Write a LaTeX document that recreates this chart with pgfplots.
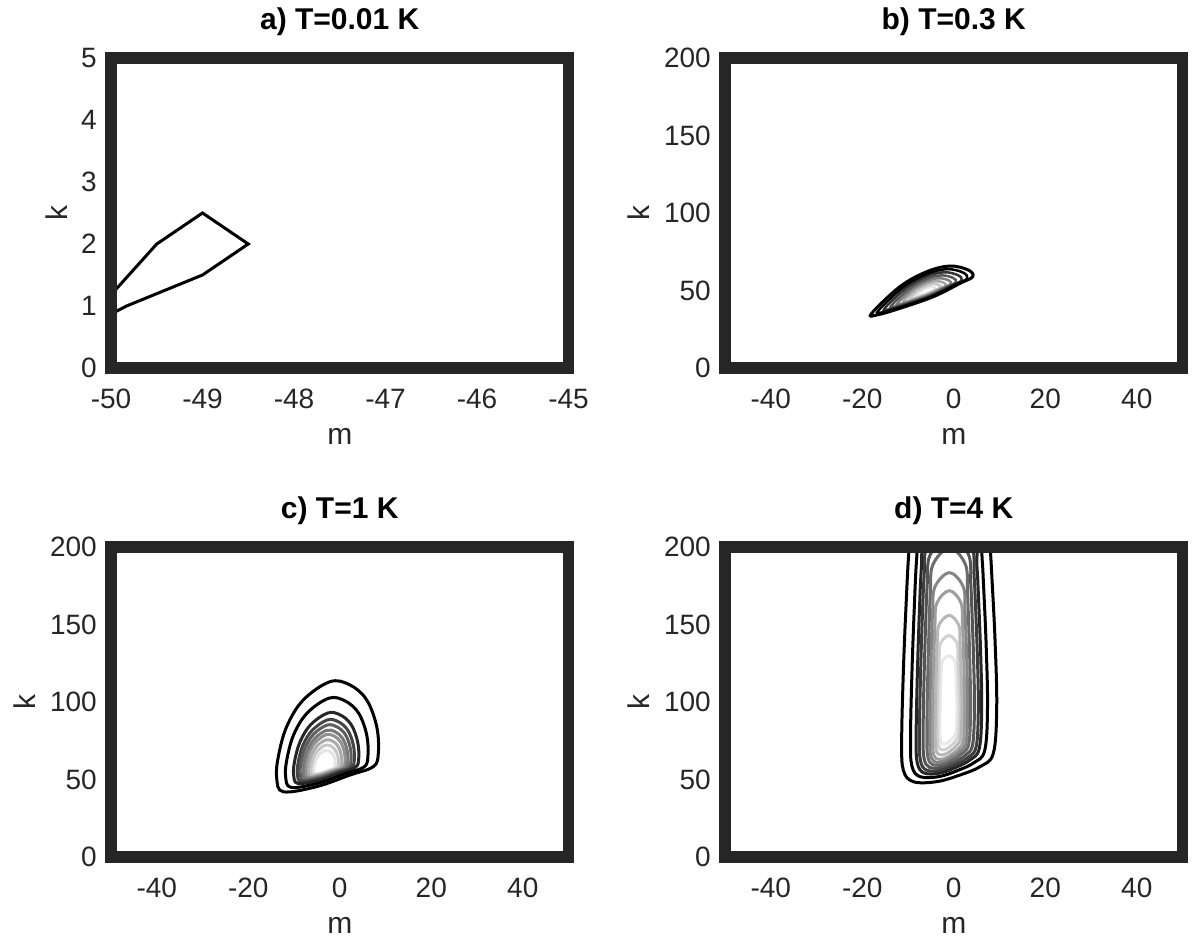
\documentclass[border=0pt]{standalone}
\usepackage{fontspec}
\setmainfont{Liberation Sans}
\usepackage{pgfplots}
\pgfplotsset{compat=1.18}
\definecolor{frm}{HTML}{262626}
\pgfplotsset{
  panel/.style={
    scale only axis, width=457.5pt, height=310pt,
    anchor=south west,
    enlargelimits=false,
    axis line style={draw=none},
    major tick length=0pt, minor tick length=0pt,
    tick style={draw=none},
    clip mode=individual,
    ticklabel style={font=\fontsize{28}{28}\selectfont, text=frm, inner sep=0pt},
    yticklabel style={anchor=east, xshift=-14pt},
    xticklabel style={anchor=north, yshift=-21pt},
    every axis title/.style={at={(axis description cs:0.5,1.0935)}, anchor=base, font=\bfseries\fontsize{30}{30}\selectfont},
    every axis x label/.style={at={(axis description cs:0.5,-0.2484)}, anchor=base, font=\fontsize{30}{30}\selectfont, text=frm},
    every axis y label/.style={at={(axis description cs:-0.094,0.5)}, rotate=90, anchor=base, font=\fontsize{30}{30}\selectfont, text=frm},
    xlabel={m}, ylabel={k},
  },
  wide/.style={
    xmin=-50, xmax=50, ymin=0, ymax=200,
    xtick={-40,-20,0,20,40}, xticklabels={-40,-20,0,20,40},
    ytick={0,50,100,150,200}, yticklabels={0,50,100,150,200},
    ylabel style={at={(axis description cs:-0.164,0.5)}},
  },
  cl/.style={smooth cycle, tension=0.6, line width=3pt, draw=#1},
}
\newcommand{\frameit}{\draw[frm, line width=11.5pt, line join=miter] (rel axis cs:0,0) rectangle (rel axis cs:1,1);}
\begin{document}
\begin{tikzpicture}[x=1pt,y=1pt]
\path[use as bounding box] (0,0) rectangle (1192,942);

% ---------------- a
\begin{axis}[panel, at={(111pt,574pt)},
  xmin=-50, xmax=-45, ymin=0, ymax=5,
  xtick={-50,-49,-48,-47,-46,-45}, xticklabels={-50,-49,-48,-47,-46,-45},
  ytick={0,1,2,3,4,5}, yticklabels={0,1,2,3,4,5},
  title={a) T=0.01 K}]
\addplot[black, line width=3pt, sharp plot] coordinates {
(-50,1.18) (-49.5,2.0) (-49,2.5) (-48.5,2.0) (-49,1.5) (-49.83,1.0) (-50,0.87)};
\frameit
\end{axis}

% ---------------- b
\begin{axis}[panel, wide, at={(725pt,574pt)}, title={b) T=0.3 K}]
\addplot[cl=black!10, line width=2.5pt] coordinates {(-8.39,46.26) (-7.15,49.7) (-5.98,51.62) (-4.96,52.36) (-4.16,51.84) (-3.97,50.98) (-4.53,50.12) (-5.69,48.4) (-7.15,46.9) (-8.16,46.04)};
\addplot[cl=black!22, line width=2.5pt] coordinates {(-9.7,44.75) (-7.78,50.09) (-5.97,53.06) (-4.39,54.21) (-3.15,53.4) (-2.86,52.07) (-3.72,50.74) (-5.53,48.07) (-7.78,45.74) (-9.35,44.41)};
\addplot[cl=black!35, line width=2.5pt] coordinates {(-11.01,43.25) (-8.42,50.47) (-5.96,54.5) (-3.82,56.06) (-2.14,54.96) (-1.74,53.16) (-2.9,51.35) (-5.36,47.74) (-8.42,44.59) (-10.54,42.78)};
\addplot[cl=black!50, line width=2.5pt] coordinates {(-12.32,41.74) (-9.05,50.86) (-5.95,55.94) (-3.25,57.9) (-1.13,56.53) (-0.63,54.25) (-2.09,51.97) (-5.19,47.41) (-9.05,43.43) (-11.72,41.16)};
\addplot[cl=black!65, line width=2.5pt] coordinates {(-13.64,40.23) (-9.68,51.24) (-5.94,57.38) (-2.68,59.75) (-0.12,58.09) (0.49,55.34) (-1.28,52.58) (-5.02,47.08) (-9.68,42.28) (-12.91,39.53)};
\addplot[cl=black!80, line width=2.5pt] coordinates {(-15.07,38.59) (-10.37,51.66) (-5.93,58.96) (-2.06,61.77) (0.98,59.79) (1.71,56.52) (-0.4,53.26) (-4.84,46.72) (-10.37,41.02) (-14.21,37.75)};
\addplot[cl=black, line width=2.5pt] coordinates {(-16.5,36.94) (-11.06,52.08) (-5.92,60.53) (-1.44,63.78) (2.08,61.5) (2.92,57.71) (0.49,53.93) (-4.65,46.36) (-11.06,39.76) (-15.5,35.98)};
\addplot[cl=black] coordinates {(-17.93,35.3) (-11.75,52.5) (-5.91,62.1) (-0.82,65.8) (3.18,63.2) (4.14,58.9) (1.37,54.6) (-4.47,46.0) (-11.75,38.5) (-16.8,34.2)};
\frameit
\end{axis}

% ---------------- c
\begin{axis}[panel, wide, at={(111pt,85pt)}, title={c) T=1 K}]
\addplot[cl=black!10] coordinates {(-3.21,68.78) (-4.44,66.3) (-5.2,62.69) (-5.59,58.62) (-5.66,55.7) (-5.36,53.87) (-3.82,54.56) (-2.29,56.14) (-1.23,57.27) (-0.99,59.08) (-1.07,62.69) (-1.53,66.3) (-2.29,68.34)};
\addplot[cl=black!22] coordinates {(-3.13,72.15) (-4.71,68.96) (-5.69,64.32) (-6.18,59.08) (-6.28,55.33) (-5.89,52.98) (-3.92,53.87) (-1.95,55.89) (-0.58,57.35) (-0.28,59.67) (-0.37,64.32) (-0.96,68.96) (-1.95,71.58)};
\addplot[cl=black!33] coordinates {(-3.05,75.51) (-4.98,71.62) (-6.17,65.94) (-6.78,59.54) (-6.89,54.95) (-6.42,52.08) (-4.01,53.17) (-1.61,55.65) (0.07,57.43) (0.44,60.27) (0.32,65.94) (-0.4,71.62) (-1.61,74.82)};
\addplot[cl=black!43] coordinates {(-2.97,78.88) (-5.24,74.28) (-6.66,67.57) (-7.37,60.0) (-7.51,54.58) (-6.95,51.19) (-4.1,52.48) (-1.26,55.4) (0.72,57.51) (1.15,60.86) (1.02,67.57) (0.16,74.28) (-1.26,78.06)};
\addplot[cl=black!53] coordinates {(-2.9,81.68) (-5.47,76.49) (-7.06,68.92) (-7.87,60.39) (-8.02,54.27) (-7.39,50.44) (-4.18,51.9) (-0.97,55.2) (1.27,57.57) (1.75,61.36) (1.6,68.92) (0.63,76.49) (-0.97,80.76)};
\addplot[cl=black!63] coordinates {(-2.82,85.05) (-5.74,79.15) (-7.55,70.55) (-8.47,60.85) (-8.64,53.9) (-7.92,49.55) (-4.27,51.2) (-0.63,54.95) (1.92,57.65) (2.47,61.95) (2.29,70.55) (1.2,79.15) (-0.63,84.0)};
\addplot[cl=black!73] coordinates {(-2.73,88.42) (-6.0,81.81) (-8.04,72.18) (-9.06,61.31) (-9.26,53.53) (-8.45,48.66) (-4.36,50.5) (-0.29,54.7) (2.56,57.73) (3.18,62.54) (2.98,72.18) (1.76,81.81) (-0.29,87.24)};
\addplot[cl=black!85] coordinates {(-2.62,92.9) (-6.36,85.35) (-8.68,74.34) (-9.86,61.93) (-10.08,53.03) (-9.16,47.46) (-4.49,49.58) (0.17,54.38) (3.43,57.83) (4.14,63.34) (3.91,74.34) (2.51,85.35) (0.17,91.56)};
\addplot[cl=black] coordinates {(-2.39,102.44) (-7.12,92.88) (-10.06,78.95) (-11.54,63.24) (-11.83,51.98) (-10.66,44.93) (-4.75,47.6) (1.15,53.68) (5.27,58.05) (6.16,65.02) (5.88,78.95) (4.11,92.88) (1.15,100.74)};
\addplot[cl=black] coordinates {(-2.13,113.1) (-7.97,101.3) (-11.6,84.1) (-13.43,64.7) (-13.78,50.8) (-12.34,42.1) (-5.04,45.4) (2.24,52.9) (7.33,58.3) (8.43,66.9) (8.08,84.1) (5.89,101.3) (2.24,111.0)};
\frameit
\end{axis}

% ---------------- d
\begin{axis}[panel, wide, at={(725pt,85pt)}, title={d) T=4 K}]
\addplot[cl=black!9] coordinates {(-1.07,129.8) (-2.51,126.2) (-2.73,120.2) (-2.86,110.96) (-2.97,100.64) (-3.03,85.83) (-2.97,76.72) (-2.58,73.19) (-1.66,73.19) (-0.74,75.21) (0.05,77.75) (0.57,81.79) (0.71,95.94) (0.64,105.8) (0.51,116.12) (0.44,120.2) (0.28,126.2)};
\addplot[cl=black!18] coordinates {(-1.04,142.85) (-2.88,137.9) (-3.16,129.65) (-3.33,116.95) (-3.46,102.76) (-3.54,84.27) (-3.46,73.6) (-2.96,69.48) (-1.78,69.48) (-0.61,71.84) (0.4,74.81) (1.07,79.54) (1.24,95.66) (1.15,109.85) (0.98,124.04) (0.9,129.65) (0.69,137.9)};
\addplot[cl=black!28] coordinates {(-1.0,155.9) (-3.24,149.6) (-3.59,139.1) (-3.79,122.93) (-3.95,104.87) (-4.05,82.91) (-3.95,70.88) (-3.34,66.23) (-1.91,66.23) (-0.48,68.9) (0.74,72.25) (1.56,77.58) (1.77,95.84) (1.66,113.9) (1.46,131.96) (1.35,139.1) (1.1,149.6)};
\addplot[cl=black!38] coordinates {(-0.96,171.85) (-3.68,163.9) (-4.1,150.65) (-4.34,130.25) (-4.54,107.46) (-4.66,81.74) (-4.54,68.55) (-3.8,63.45) (-2.06,63.45) (-0.33,66.37) (1.16,70.04) (2.15,75.89) (2.4,96.06) (2.27,118.85) (2.03,141.64) (1.9,150.65) (1.59,163.9)};
\addplot[cl=black!48] coordinates {(-0.92,183.45) (-4.12,174.3) (-4.61,159.05) (-4.9,135.57) (-5.13,109.34) (-5.27,80.96) (-5.13,66.99) (-4.26,61.59) (-2.21,61.59) (-0.17,64.69) (1.58,68.58) (2.74,74.77) (3.04,96.22) (2.89,122.45) (2.6,148.68) (2.45,159.05) (2.08,174.3)};
\addplot[cl=black!58] coordinates {(-0.88,199.4) (-4.56,188.6) (-5.12,170.6) (-5.45,142.88) (-5.72,111.92) (-5.88,80.18) (-5.72,65.44) (-4.71,59.74) (-2.36,59.74) (-0.02,63.0) (1.99,67.11) (3.33,73.64) (3.67,96.44) (3.5,127.4) (3.17,158.36) (3.0,170.6) (2.57,188.6)};
\addplot[cl=black!67] coordinates {(-0.82,206.65) (-5.14,195.1) (-5.8,175.85) (-6.19,146.2) (-6.51,113.1) (-6.7,79.4) (-6.51,63.88) (-5.33,57.88) (-2.57,57.88) (0.19,61.32) (2.55,65.64) (4.12,72.52) (4.52,96.54) (4.32,129.65) (3.92,162.76) (3.72,175.85) (3.23,195.1)};
\addplot[cl=black!76] coordinates {(-0.77,213.9) (-5.73,201.6) (-6.48,181.1) (-6.93,149.53) (-7.29,114.27) (-7.51,78.62) (-7.29,62.32) (-5.94,56.02) (-2.77,56.02) (0.39,59.64) (3.1,64.17) (4.91,71.4) (5.37,96.64) (5.14,131.9) (4.68,167.16) (4.45,181.1) (3.88,201.6)};
\addplot[cl=black!85] coordinates {(-0.72,221.15) (-6.24,208.1) (-7.08,186.35) (-7.58,152.86) (-7.98,115.45) (-8.22,77.84) (-7.98,60.77) (-6.47,54.17) (-2.95,54.17) (0.57,57.95) (3.59,62.7) (5.6,70.27) (6.11,96.74) (5.85,134.15) (5.35,171.56) (5.09,186.35) (4.46,208.1)};
\addplot[cl=black] coordinates {(-0.63,229.85) (-7.11,215.9) (-8.1,192.65) (-8.68,156.85) (-9.16,116.86) (-9.45,76.86) (-9.16,58.82) (-7.39,51.85) (-3.25,51.85) (0.88,55.85) (4.42,60.87) (6.78,68.87) (7.38,96.86) (7.08,136.85) (6.49,176.84) (6.19,192.65) (5.44,215.9)};
\addplot[cl=black] coordinates {(-0.5,240) (-8.5,225) (-9.72,200) (-10.44,161.5) (-11.03,118.5) (-11.38,75.5) (-11.03,56.1) (-8.84,48.6) (-3.73,48.6) (1.37,52.9) (5.74,58.3) (8.65,66.9) (9.39,97) (9.02,140) (8.29,183) (7.92,200) (7.0,225)};
\frameit
\end{axis}
\end{tikzpicture}
\end{document}
